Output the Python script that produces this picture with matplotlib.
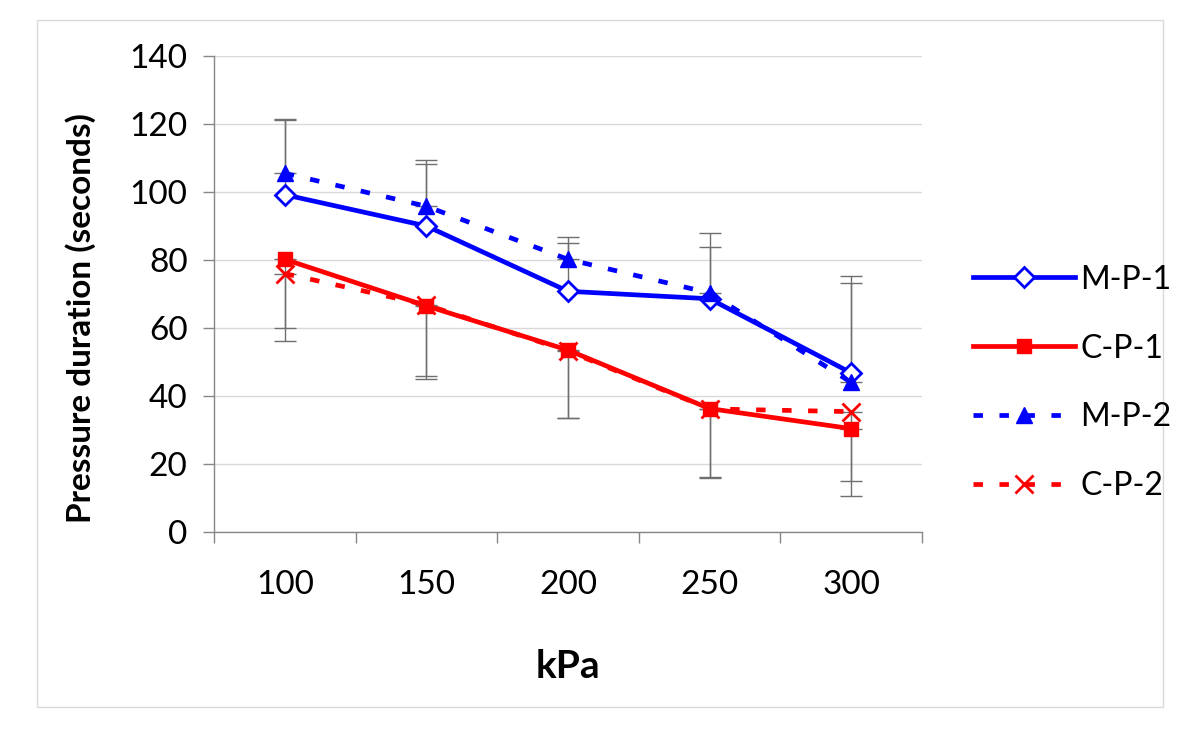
import numpy as np
import matplotlib
matplotlib.use("Agg")
import matplotlib.pyplot as plt
from matplotlib.patches import Rectangle

plt.rcParams['font.family'] = ['Lato', 'DejaVu Sans']

# data
pressures = ['100', '150', '200', '250', '300']
mp1 = [99.2, 90.0, 70.8, 68.6, 46.8]
cp1 = [80.2, 66.5, 53.5, 36.3, 30.4]
mp2 = [105.5, 95.8, 80.2, 70.3, 44.0]
cp2 = [76.0, 66.8, 53.2, 36.2, 35.4]
# M series show upper error bars, C series lower ones
mp1_err = [22.0, 18.2, 14.2, 15.2, 26.3]
mp2_err = [16.0, 13.6, 6.5, 17.7, 31.4]
cp1_err = [20.2, 20.5, 20.0, 20.0, 15.4]
cp2_err = [19.8, 21.8, 19.8, 20.2, 24.8]

blue = '#0000ff'
red = '#ff0000'
errc = '#6f6f6f'

fig = plt.figure(figsize=(12, 7.38), dpi=100)
ax = fig.add_axes([214/1200, 1 - 532/738, (922 - 214)/1200, (532 - 56)/738])

x = np.arange(len(pressures))

ebkw = dict(fmt='none', ecolor=errc, elinewidth=1, capsize=8, capthick=1, zorder=2)
zeros = [0] * len(x)
ax.errorbar(x, mp1, yerr=[zeros, mp1_err], **ebkw)
ax.errorbar(x, mp2, yerr=[zeros, mp2_err], **ebkw)
ax.errorbar(x, cp1, yerr=[cp1_err, zeros], **ebkw)
ax.errorbar(x, cp2, yerr=[cp2_err, zeros], **ebkw)

lw = 3.4
ax.plot(x, mp1, color=blue, lw=lw, marker='D', ms=10, mfc='white', mec=blue, mew=2,
        label='M-P-1', zorder=3)
ax.plot(x, cp1, color=red, lw=lw, marker='s', ms=9.5, mfc=red, mec=red,
        label='C-P-1', zorder=3)
ax.plot(x, mp2, color=blue, lw=lw, ls=(0, (2, 3.5)), marker='^', ms=12, mfc=blue, mec=blue,
        label='M-P-2', zorder=4)
ax.plot(x, cp2, color=red, lw=lw, ls=(0, (2, 3.5)), marker='x', ms=13, mew=2, mec=red,
        label='C-P-2', zorder=4)

ax.set_xlim(-0.5, len(x) - 0.5)
ax.set_ylim(0, 140)
ax.set_yticks(range(0, 141, 20))
ax.set_xticks(x)
ax.set_xticklabels(pressures)
ax.set_xticks(np.arange(-0.5, len(x), 1), minor=True)
ax.tick_params(axis='x', which='major', length=0, pad=27, labelsize=24)
ax.tick_params(axis='x', which='minor', length=8, color='#868686', width=1)
ax.tick_params(axis='y', length=8, color='#868686', width=1, pad=11, labelsize=24)

ax.grid(axis='y', color='#d9d9d9', lw=1)
ax.set_axisbelow(True)
for s in ['top', 'right']:
    ax.spines[s].set_visible(False)
for s in ['left', 'bottom']:
    ax.spines[s].set_color('#868686')
    ax.spines[s].set_linewidth(1)

ax.set_ylabel('Pressure duration (seconds)', fontsize=24, fontweight='bold')
ax.yaxis.set_label_coords(-0.167, 0.45)
ax.set_xlabel('kPa', fontsize=28, fontweight='bold', labelpad=36)

leg = fig.legend(loc='center left', bbox_to_anchor=(973/1200, 1 - 383/738), frameon=False,
                 fontsize=23, handlelength=3.2, handletextpad=0.15, labelspacing=1.22,
                 borderaxespad=0, borderpad=0)

fig.patches.append(Rectangle((37/1200, 1 - 707/738), (1163 - 37)/1200, (707 - 20)/738,
                             transform=fig.transFigure, fill=False, ec='#d9d9d9', lw=1))

fig.savefig('out.png', dpi=100)
